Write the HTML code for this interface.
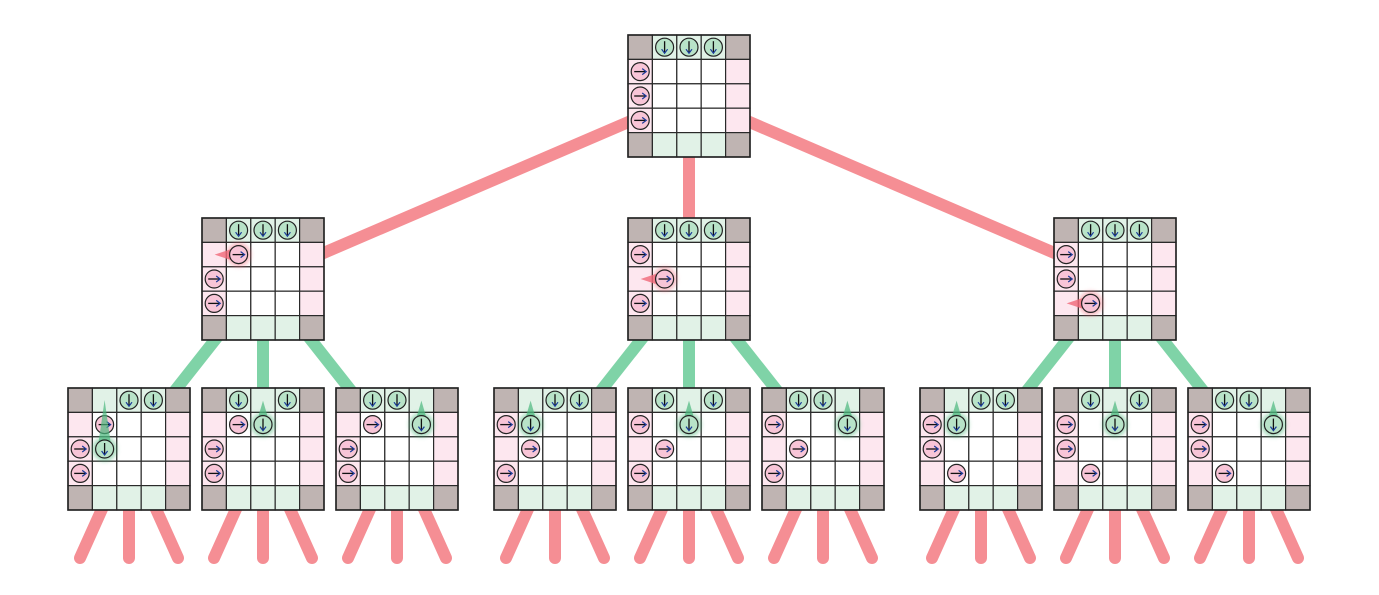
<!DOCTYPE html>
<html><head><meta charset="utf-8"><style>
html,body{margin:0;padding:0;background:#fff;width:1379px;height:595px;overflow:hidden}
svg{display:block}
</style></head><body>
<svg id="s" width="1379" height="595" xmlns="http://www.w3.org/2000/svg">
<defs>
<filter id="glowR" x="-50%" y="-50%" width="200%" height="200%"><feGaussianBlur stdDeviation="2.5"/></filter>
</defs>
<g id="lines"></g>
<g id="boards"></g>
</svg>
<script>
const NS="http://www.w3.org/2000/svg";
const L=document.getElementById('lines'),B=document.getElementById('boards');
function el(p,t,a){const e=document.createElementNS(NS,t);for(const k in a)e.setAttribute(k,a[k]);p.appendChild(e);return e;}
const S=122,C=S/5;
const RED='#f58e94',GRN='#7fd3a7';
function line(x1,y1,x2,y2,c){el(L,'line',{x1,y1,x2,y2,stroke:c,'stroke-width':12,'stroke-linecap':'round'});}
function board(x,y,pinks,greens,trail){
  const g=el(B,'g',{});
  for(let r=0;r<5;r++)for(let c=0;c<5;c++){
    let f='#fff';
    const corner=(r==0||r==4)&&(c==0||c==4);
    if(corner)f='#bfb4b2';else if(r==0||r==4)f='#e1f2e7';else if(c==0||c==4)f='#fde7ef';
    el(g,'rect',{x:x+c*C,y:y+r*C,width:C,height:C,fill:f,stroke:'#2a2a2a','stroke-width':1.2});
  }
  el(g,'rect',{x:x,y:y,width:S,height:S,fill:'none',stroke:'#222','stroke-width':1.6});
  if(trail&&trail[2]=='p'){
    const [r,c]=trail;const cx=x+c*C+C/2,cy=y+r*C+C/2;
    el(g,'circle',{cx,cy,r:12,fill:'#f07080',opacity:.5,filter:'url(#glowR)'});
    el(g,'polygon',{points:`${cx-24},${cy} ${cx},${cy-8} ${cx},${cy+8}`,fill:'#f06878',opacity:.8});
  }
  for(const [r,c] of pinks){const cx=x+c*C+C/2,cy=y+r*C+C/2;
    el(g,'circle',{cx,cy,r:9,fill:'#f8c5d7',stroke:'#222','stroke-width':1.2});
    el(g,'line',{x1:cx-6,y1:cy,x2:cx+5,y2:cy,stroke:'#111','stroke-width':1.3});
    el(g,'polyline',{points:`${cx+2},${cy-3} ${cx+6},${cy} ${cx+2},${cy+3}`,fill:'none',stroke:'#1a3a9a','stroke-width':1.2});
  }
  if(trail&&trail[2]=='g'){
    const [r,c]=trail;const cx=x+c*C+C/2,cy=y+r*C+C/2;
    const dy=r==2?49:24;
    el(g,'circle',{cx,cy,r:12,fill:'#40b070',opacity:.5,filter:'url(#glowR)'});
    el(g,'polygon',{points:`${cx},${cy-dy} ${cx-7},${cy} ${cx+7},${cy}`,fill:'#4cb87e',opacity:.7});
  }
  for(const [r,c] of greens){const cx=x+c*C+C/2,cy=y+r*C+C/2;
    el(g,'circle',{cx,cy,r:9,fill:'#b8e3c8',stroke:'#222','stroke-width':1.2});
    el(g,'line',{x1:cx,y1:cy-6,x2:cx,y2:cy+5,stroke:'#111','stroke-width':1.3});
    el(g,'polyline',{points:`${cx-3},${cy+2} ${cx},${cy+6} ${cx+3},${cy+2}`,fill:'none',stroke:'#1a3a9a','stroke-width':1.2});
  }
}
const root=[628,35],l2=[[202,218],[628,218],[1054,218]];
const l3x=[68,202,336,494,628,762,920,1054,1188],l3y=388;
const ctr=(p)=>[p[0]+61,p[1]+61];
const rc=ctr(root);
l2.forEach(p=>{const c=ctr(p);line(rc[0],rc[1],c[0],c[1],RED);});
l2.forEach((p,i)=>{const c=ctr(p);for(let j=0;j<3;j++){const q=ctr([l3x[i*3+j],l3y]);line(c[0],c[1],q[0],q[1],GRN);}});
l3x.forEach(x=>{const c=ctr([x,l3y]);[-49,0,49].forEach(d=>line(c[0],c[1],c[0]+d,558,RED));});
const TOP=[[0,1],[0,2],[0,3]];
board(628,35,[[1,0],[2,0],[3,0]],TOP);
const l2p=[[[1,1],[2,0],[3,0]],[[1,0],[2,1],[3,0]],[[1,0],[2,0],[3,1]]];
const l2t=[[1,1,'p'],[2,1,'p'],[3,1,'p']];
l2.forEach((p,i)=>board(p[0],p[1],l2p[i],TOP,l2t[i]));
const l3=[
 [l2p[0],[[0,2],[0,3],[2,1]],[2,1,'g']],
 [l2p[0],[[0,1],[0,3],[1,2]],[1,2,'g']],
 [l2p[0],[[0,1],[0,2],[1,3]],[1,3,'g']],
];
for(let i=1;i<3;i++){
 l3.push([l2p[i],[[0,2],[0,3],[1,1]],[1,1,'g']]);
 l3.push([l2p[i],[[0,1],[0,3],[1,2]],[1,2,'g']]);
 l3.push([l2p[i],[[0,1],[0,2],[1,3]],[1,3,'g']]);
}
l3.forEach((d,i)=>board(l3x[i],l3y,d[0],d[1],d[2]));
</script>
</body></html>
